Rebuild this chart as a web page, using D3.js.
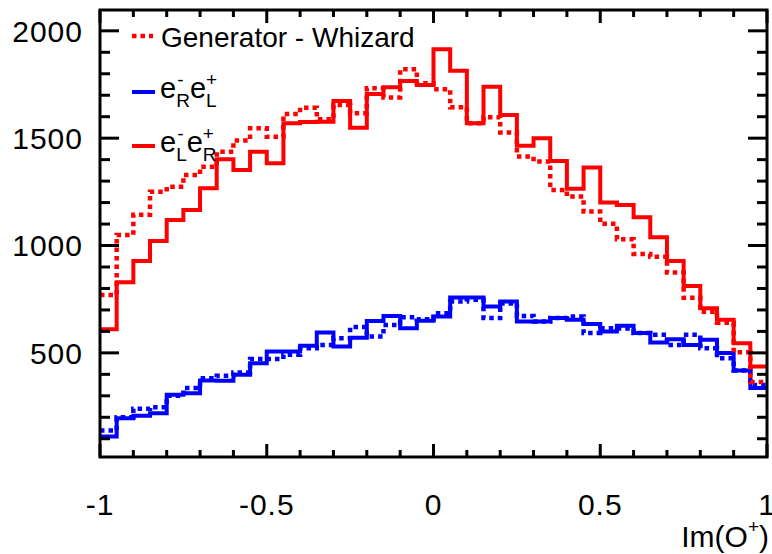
<!DOCTYPE html>
<html>
<head>
<meta charset="utf-8">
<script src="https://d3js.org/d3.v7.min.js"></script>
<style>
html,body{margin:0;padding:0;background:#fff;}
svg{display:block;font-family:"Liberation Sans",Arial,Helvetica,sans-serif;}
</style>
</head>
<body>
<svg id="chart" width="772" height="554"></svg>
<script>
// ---- data ----
const binEdgesStart = -1;
const binWidth = 0.05;
const redSolid = [610,829,928,1021,1119,1166,1267,1402,1352,1437,1383,1570,1575,1577,1673,1549,1706,1737,1766,1748,
                  1914,1814,1570,1740,1608,1465,1500,1394,1264,1363,1200,1189,1132,1039,928,812,708,654,545,436];
const redDotted = [770,1049,1143,1251,1274,1329,1367,1437,1489,1546,1507,1613,1642,1588,1655,1616,1732,1690,1821,1756,
                   1728,1644,1570,1597,1526,1415,1391,1259,1228,1158,1101,1029,961,948,874,757,692,640,503,364];
const blueSolid = [110,196,207,219,305,312,371,370,398,452,506,506,533,595,530,571,649,672,615,650,
                   669,758,758,716,739,646,646,662,654,635,599,626,592,548,564,537,561,499,418,336];
const blueDotted = [138,200,240,247,300,336,382,393,408,471,471,491,522,537,568,620,576,630,666,657,
                    685,739,747,662,730,672,646,662,669,592,615,613,592,584,537,584,522,475,418,350];
const yTicks = [500, 1000, 1500, 2000];
const xTicks = [-1, -0.5, 0, 0.5, 1];
const xTickLabels = ["-1", "-0.5", "0", "0.5", "1"];
const legendTitle = "Generator - Whizard";

// ---- layout ----
const L = 100, R = 767, T = 10, B = 457;
const svg = d3.select("#chart");
const x = d3.scaleLinear().domain([-1, 1]).range([L, R]);
const y = d3.scaleLinear().domain([15, 2097]).range([B, T]);
const RED = "#ff0000", BLUE = "#0000ff";
const FS = 29;
const TFS = 30;

function stepPoints(vals) {
  const pts = [];
  vals.forEach((v, i) => {
    const x0 = binEdgesStart + i * binWidth;
    pts.push([x0, v]);
    pts.push([x0 + binWidth, v]);
  });
  return pts;
}
const line = d3.line().x(d => x(d[0])).y(d => y(d[1]));

function drawHist(vals, color, dotted) {
  svg.append("path")
    .attr("d", line(stepPoints(vals)))
    .attr("fill", "none")
    .attr("stroke", color)
    .attr("stroke-width", dotted ? 4.5 : 4)
    .attr("stroke-linejoin", "miter")
    .attr("stroke-dasharray", dotted ? "4.5,4" : null);
}
drawHist(blueDotted, BLUE, true);
drawHist(blueSolid, BLUE, false);
drawHist(redDotted, RED, true);
drawHist(redSolid, RED, false);

// ---- axes (ROOT style, ticks inside on all sides) ----
const g = svg.append("g");
const yMinor = d3.range(100, 2001, 100);
const xMinor = d3.range(-10, 11).map(d => d / 10);

yMinor.forEach(v => {
  const major = v % 500 === 0;
  const len = major ? 19 : 10;
  g.append("line").attr("x1", L).attr("x2", L + len).attr("y1", y(v)).attr("y2", y(v))
    .attr("stroke", "#000").attr("stroke-width", 3);
  g.append("line").attr("x1", R).attr("x2", R - len).attr("y1", y(v)).attr("y2", y(v))
    .attr("stroke", "#000").attr("stroke-width", 3);
});
xMinor.forEach(v => {
  const major = Math.abs(Math.round(v * 10)) % 5 === 0;
  const len = major ? 13 : 7;
  g.append("line").attr("x1", x(v)).attr("x2", x(v)).attr("y1", B).attr("y2", B - len)
    .attr("stroke", "#000").attr("stroke-width", 3);
  g.append("line").attr("x1", x(v)).attr("x2", x(v)).attr("y1", T).attr("y2", T + len)
    .attr("stroke", "#000").attr("stroke-width", 3);
});
// frame
g.append("rect").attr("x", L).attr("y", T).attr("width", R - L).attr("height", B - T)
  .attr("fill", "none").attr("stroke", "#000").attr("stroke-width", 3);

// tick labels
yTicks.forEach(v => {
  svg.append("text").attr("x", 83).attr("y", y(v)).attr("dy", "0.36em")
    .attr("text-anchor", "end").attr("font-size", TFS).attr("letter-spacing", 1)
    .attr("fill", "#000").text(d3.format("d")(v));
});
xTicks.forEach((v, i) => {
  svg.append("text").attr("x", x(v)).attr("y", 515)
    .attr("text-anchor", "middle").attr("font-size", TFS).attr("letter-spacing", 1)
    .attr("fill", "#000").text(xTickLabels[i]);
});

// x title: Im(O^+)
const xt = svg.append("text").attr("y", 547).attr("font-size", 30).attr("fill", "#000");
xt.append("tspan").text("Im(O");
xt.append("tspan").attr("font-size", 19).attr("dy", -14).text("+");
xt.append("tspan").attr("dy", 14).text(")");
const xtw = xt.node().getComputedTextLength();
xt.attr("x", 769 - xtw);

// ---- legend ----
svg.append("line").attr("x1", 132).attr("x2", 153).attr("y1", 36).attr("y2", 36)
  .attr("stroke", RED).attr("stroke-width", 4.5).attr("stroke-dasharray", "4.5,4");
svg.append("text").attr("x", 161).attr("y", 47).attr("font-size", 28).attr("fill", "#000").text(legendTitle);

function particleLabel(x0, base, sub1, sup1, sub2, sup2) {
  const gg = svg.append("g");
  let cx = x0;
  function txt(s, xx, yy, fs) {
    const t = gg.append("text").attr("x", xx).attr("y", yy).attr("font-size", fs).attr("fill", "#000").text(s);
    return t.node().getComputedTextLength();
  }
  const parts = [[sub1, sup1], [sub2, sup2]];
  parts.forEach(([sb, sp]) => {
    cx += txt("e", cx, base, FS);
    const w1 = txt(sb, cx, base + 9, 19);
    const w2 = txt(sp, cx + (sp === "-" ? 1 : 0), base - 12, 19);
    cx += Math.max(w1, w2);
  });
}
svg.append("line").attr("x1", 132).attr("x2", 155).attr("y1", 92).attr("y2", 92)
  .attr("stroke", BLUE).attr("stroke-width", 4);
particleLabel(160, 98, "R", "-", "L", "+");
svg.append("line").attr("x1", 132).attr("x2", 155).attr("y1", 146).attr("y2", 146)
  .attr("stroke", RED).attr("stroke-width", 4);
particleLabel(160, 152, "L", "-", "R", "+");
</script>
</body>
</html>
